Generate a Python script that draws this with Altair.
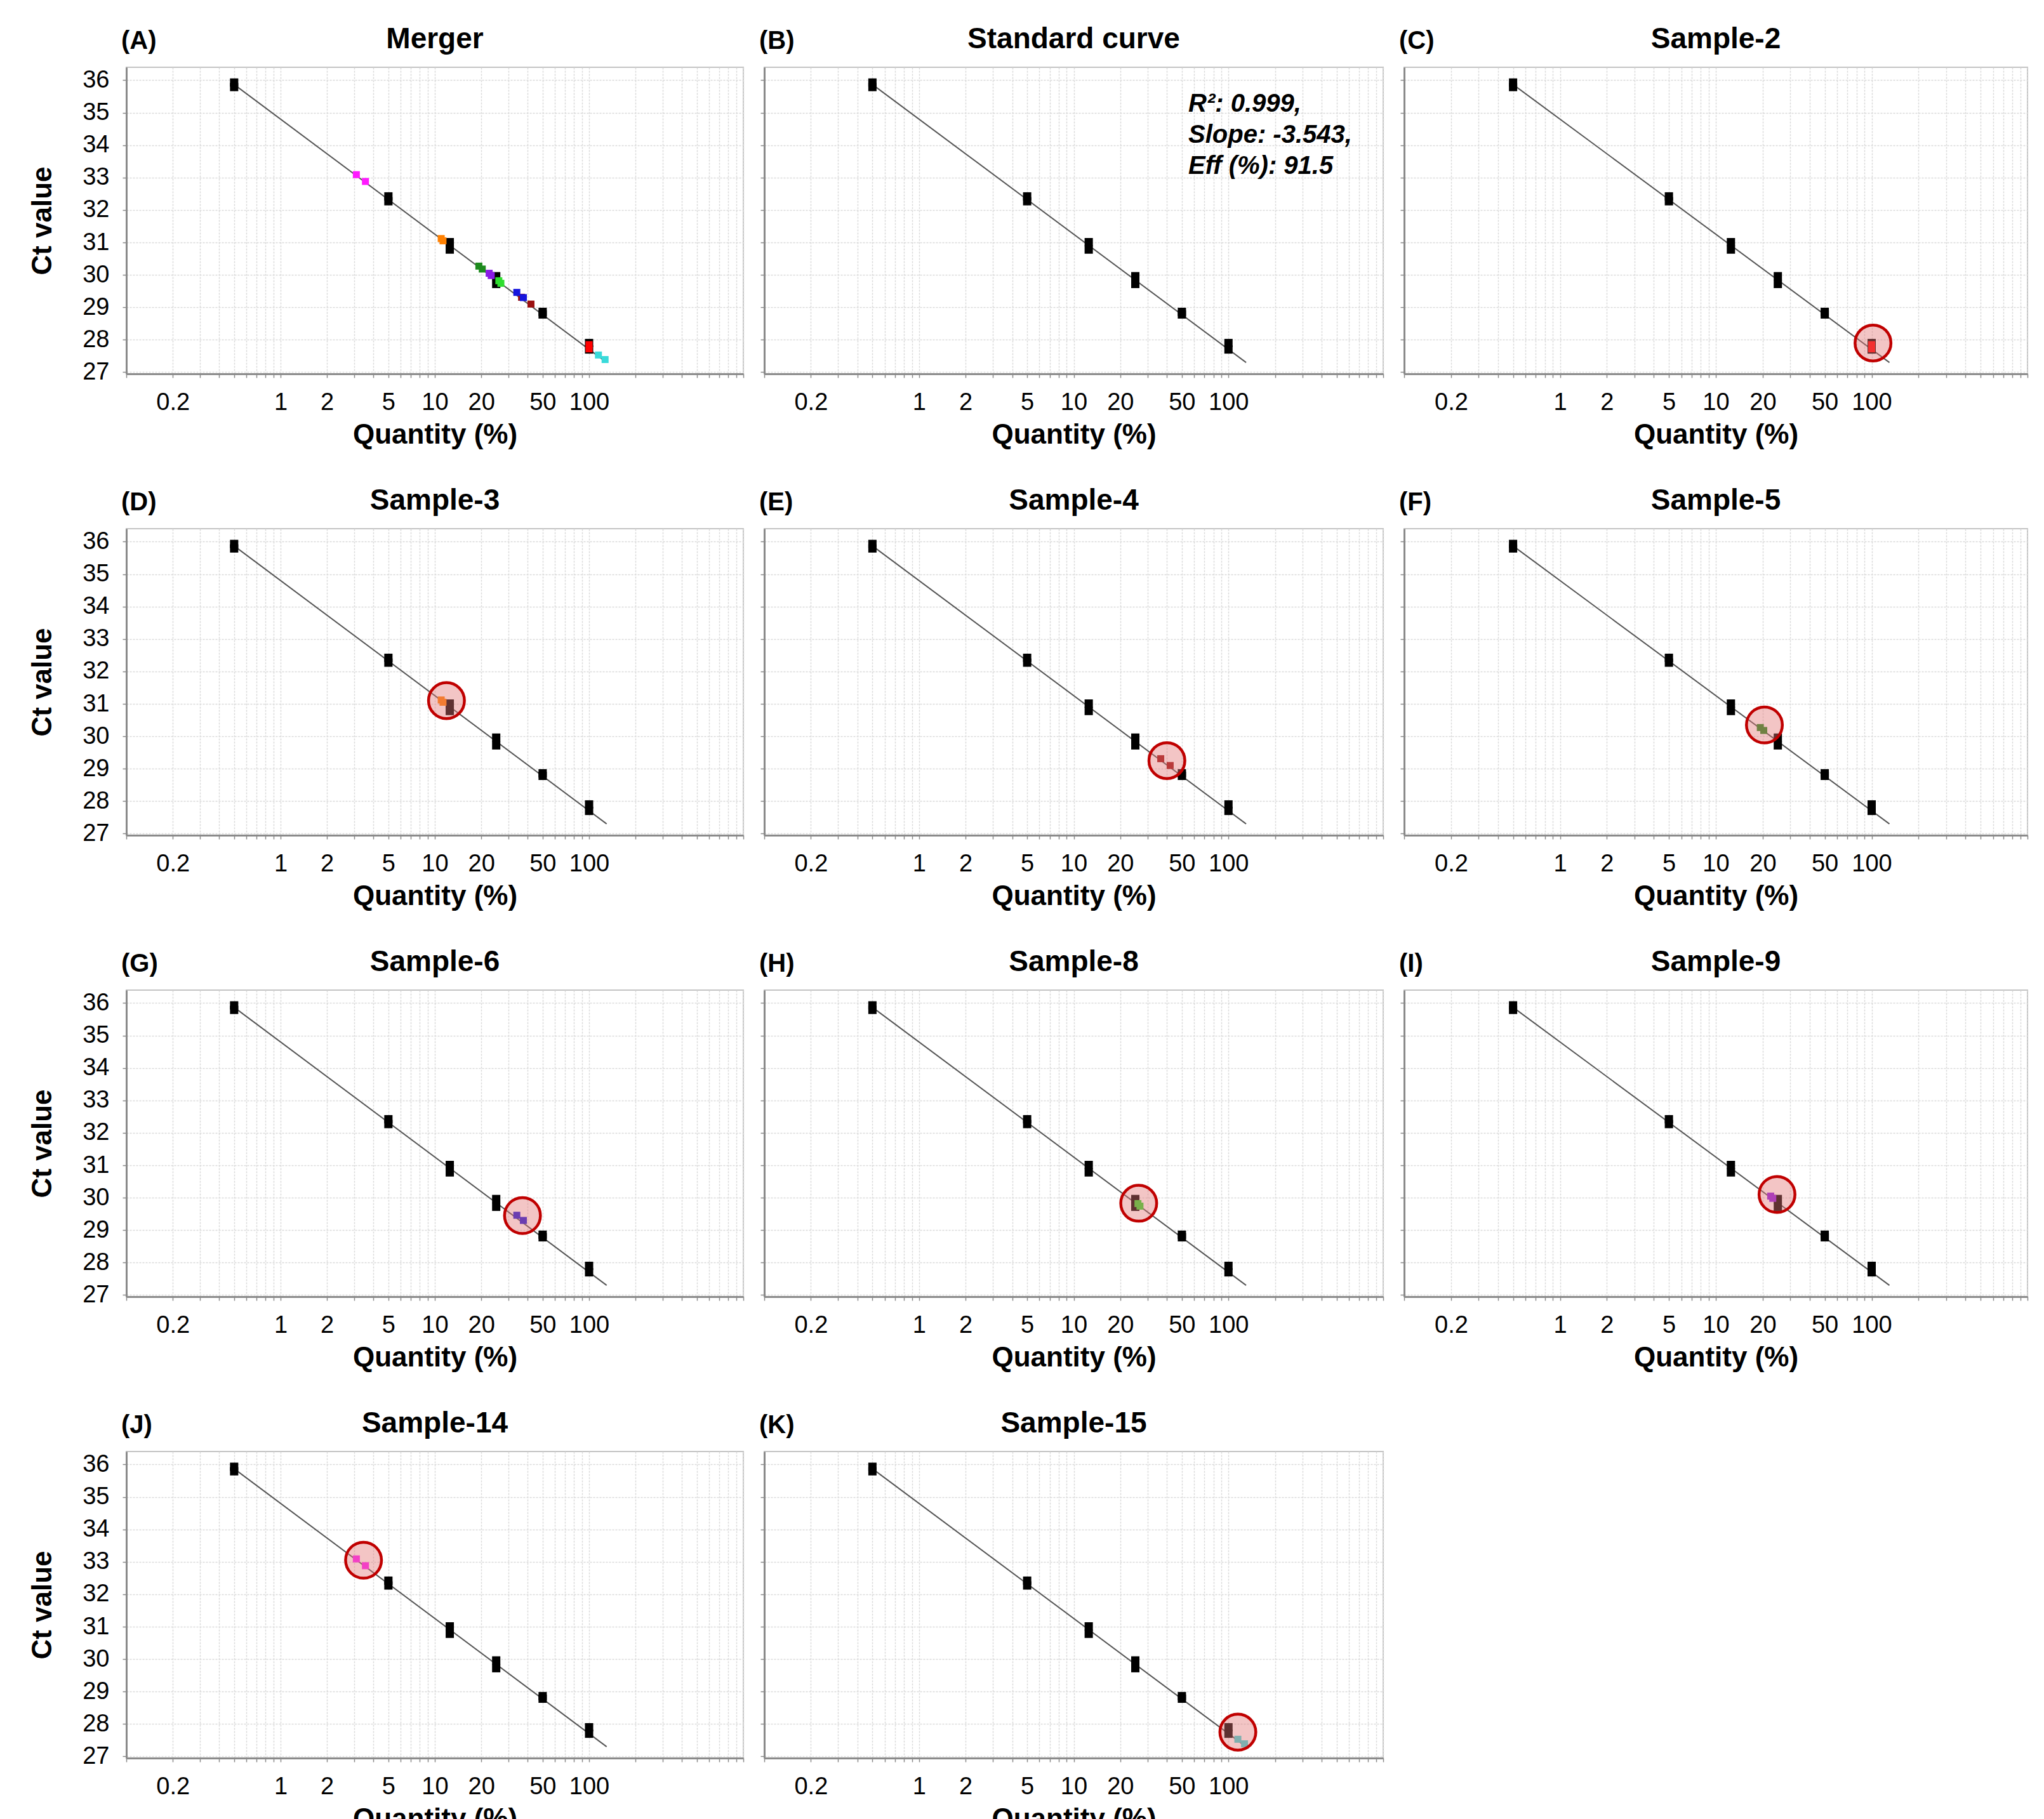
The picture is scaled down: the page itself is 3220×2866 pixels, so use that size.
import altair as alt
import pandas as pd

FONT = "Liberation Sans, Arial, Helvetica, sans-serif"

# ---- data ----
std_qty = [0.5, 0.5, 5, 5, 12.5, 12.5, 25, 25, 50, 50, 100, 100]
std_ct = [35.93, 35.79, 32.42, 32.27, 31.01, 30.78, 29.96, 29.72, 28.86, 28.78, 27.90, 27.70]

fit_qty = [0.5, 130]
fit_ct = [35.87, 27.30]

sample_names = ["Sample-2", "Sample-3", "Sample-4", "Sample-5", "Sample-6",
                "Sample-8", "Sample-9", "Sample-14", "Sample-15"]
sample_colors = ["#FF0000", "#FF8000", "#9B1010", "#1E8B1E", "#1515DD",
                 "#2EDD2E", "#8A1AE6", "#FF1AFF", "#3ADADA"]
sample_qty = [[100, 100], [11.0, 11.3], [36.5, 42.0], [19.3, 20.3], [34.0, 37.5],
              [26.0, 26.8], [22.5, 23.2], [3.1, 3.55], [115, 127]]
sample_ct = [[27.85, 27.72], [31.12, 31.05], [29.31, 29.10], [30.27, 30.18], [29.46, 29.30],
             [29.82, 29.74], [30.05, 29.98], [33.09, 32.88], [27.53, 27.39]]
circle_qty = [102, 11.9, 40, 20.5, 37, 26.3, 24.7, 3.45, 115]
circle_ct = [27.9, 31.1, 29.25, 30.35, 29.45, 29.83, 30.1, 33.05, 27.75]

panel_letters = ["(A)", "(B)", "(C)", "(D)", "(E)", "(F)", "(G)", "(H)", "(I)", "(J)", "(K)"]
panel_titles = ["Merger", "Standard curve"] + sample_names
annotation = ["R²: 0.999,", "Slope: -3.543,", "Eff (%): 91.5"]

x_labels = [0.2, 1, 2, 5, 10, 20, 50, 100]
x_grid = [0.1, 0.2, 0.3, 0.4, 0.5, 0.6, 0.7, 0.8, 0.9,
          1, 2, 3, 4, 5, 6, 7, 8, 9,
          10, 20, 30, 40, 50, 60, 70, 80, 90,
          100, 200, 300, 400, 500, 600, 700, 800, 900, 1000]
y_grid = [27, 27.5, 28, 28.5, 29, 29.5, 30, 30.5, 31, 31.5, 32, 32.5,
          33, 33.5, 34, 34.5, 35, 35.5, 36]
y_labels = [27, 28, 29, 30, 31, 32, 33, 34, 35, 36]

COL_W = [972, 975, 982]
H = 483

std_df = pd.DataFrame({"q": std_qty, "ct": std_ct})
fit_df = pd.DataFrame({"q": fit_qty, "ct": fit_ct})


def x_enc():
    return alt.X(
        "q:Q",
        scale=alt.Scale(type="log", domain=[0.1, 1000], nice=False),
        axis=alt.Axis(
            values=x_grid,
            labelExpr="indexof(" + str(x_labels) + ", datum.value) >= 0 ? datum.value + '' : ''",
            title="Quantity (%)",
            labelOverlap=False,
            labelFlush=False,
            labelPadding=20,
            titlePadding=10,
        ),
    )


def y_enc(show_labels):
    if show_labels:
        ax = alt.Axis(
            values=y_grid,
            labelExpr="indexof(" + str(y_labels) + ", datum.value) >= 0 ? datum.value + '' : ''",
            title="Ct value",
            labelOverlap=False,
            labelFlush=False,
            labelPadding=21,
            titlePadding=40,
        )
    else:
        ax = alt.Axis(values=y_grid, labels=False, title=None)
    return alt.Y("ct:Q", scale=alt.Scale(domain=[26.95, 36.4], nice=False, zero=False), axis=ax)


def panel(idx, col):
    W = COL_W[col]
    show_y = col == 0
    base_line = alt.Chart(fit_df).mark_line(color="#555555", strokeWidth=2).encode(
        x=x_enc(), y=y_enc(show_y)
    )
    std_pts = alt.Chart(std_df).mark_point(
        shape="square", filled=True, size=169, color="black", opacity=1
    ).encode(x="q:Q", y="ct:Q")
    layers = [base_line, std_pts]

    if idx == 0:
        rows = []
        for k in range(len(sample_names)):
            for r in range(2):
                rows.append({"q": sample_qty[k][r], "ct": sample_ct[k][r], "c": sample_colors[k]})
        sdf = pd.DataFrame(rows)
    elif idx >= 2:
        k = idx - 2
        sdf = pd.DataFrame({"q": sample_qty[k], "ct": sample_ct[k], "c": [sample_colors[k]] * 2})
    else:
        sdf = None

    if sdf is not None:
        layers.append(
            alt.Chart(sdf).mark_point(shape="square", filled=True, size=121, opacity=1).encode(
                x="q:Q", y="ct:Q", color=alt.Color("c:N", scale=None)
            )
        )
    if idx >= 2:
        k = idx - 2
        cdf = pd.DataFrame({"q": [circle_qty[k]], "ct": [circle_ct[k]]})
        layers.append(
            alt.Chart(cdf).mark_point(
                shape="circle", size=3200, filled=False, fill="#E27474", fillOpacity=0.42,
                stroke="#C00000", strokeWidth=4.5, strokeOpacity=1, opacity=1
            ).encode(x="q:Q", y="ct:Q")
        )
    if idx == 1:
        layers.append(
            alt.Chart(pd.DataFrame({"a": [0]})).mark_text(
                align="left", baseline="alphabetic", fontSize=40, fontWeight="bold",
                fontStyle="italic", lineHeight=49, font=FONT, color="black"
            ).encode(x=alt.value(668), y=alt.value(70), text=alt.value(annotation))
        )

    one = pd.DataFrame({"a": [0]})
    layers.append(
        alt.Chart(one).mark_text(
            align="left", baseline="middle", fontSize=40, fontWeight="bold", font=FONT, color="black"
        ).encode(x=alt.value(-8), y=alt.value(-41), text=alt.value(panel_letters[idx]))
    )
    layers.append(
        alt.Chart(one).mark_text(
            align="center", baseline="middle", fontSize=46, fontWeight="bold", font=FONT, color="black"
        ).encode(x=alt.value(W / 2), y=alt.value(-44), text=alt.value(panel_titles[idx]))
    )
    return alt.layer(*layers).properties(width=W, height=H)


rows = []
idx = 0
for r in range(4):
    cols = []
    for c in range(3):
        if idx >= 11:
            break
        cols.append(panel(idx, c))
        idx += 1
    rows.append(alt.hconcat(*cols, spacing=22))

chart = alt.vconcat(*rows, spacing=57).properties(
    padding={"left": 36, "top": 30, "right": 5, "bottom": 5},
    background="white",
).configure_view(
    stroke="#C4C4C4", strokeWidth=2
).configure_axis(
    labelFont=FONT, titleFont=FONT,
    labelFontSize=38, titleFontSize=44, titleFontWeight="bold",
    labelColor="black", titleColor="black",
    grid=True, gridColor="#DADADA", gridDash=[3, 2], gridWidth=1.5,
    domainColor="#8A8A8A", domainWidth=3,
    tickColor="#8A8A8A", tickSize=6, tickWidth=1.5,
)

chart.save("out.html", embed_options={"renderer": "svg", "actions": False})
